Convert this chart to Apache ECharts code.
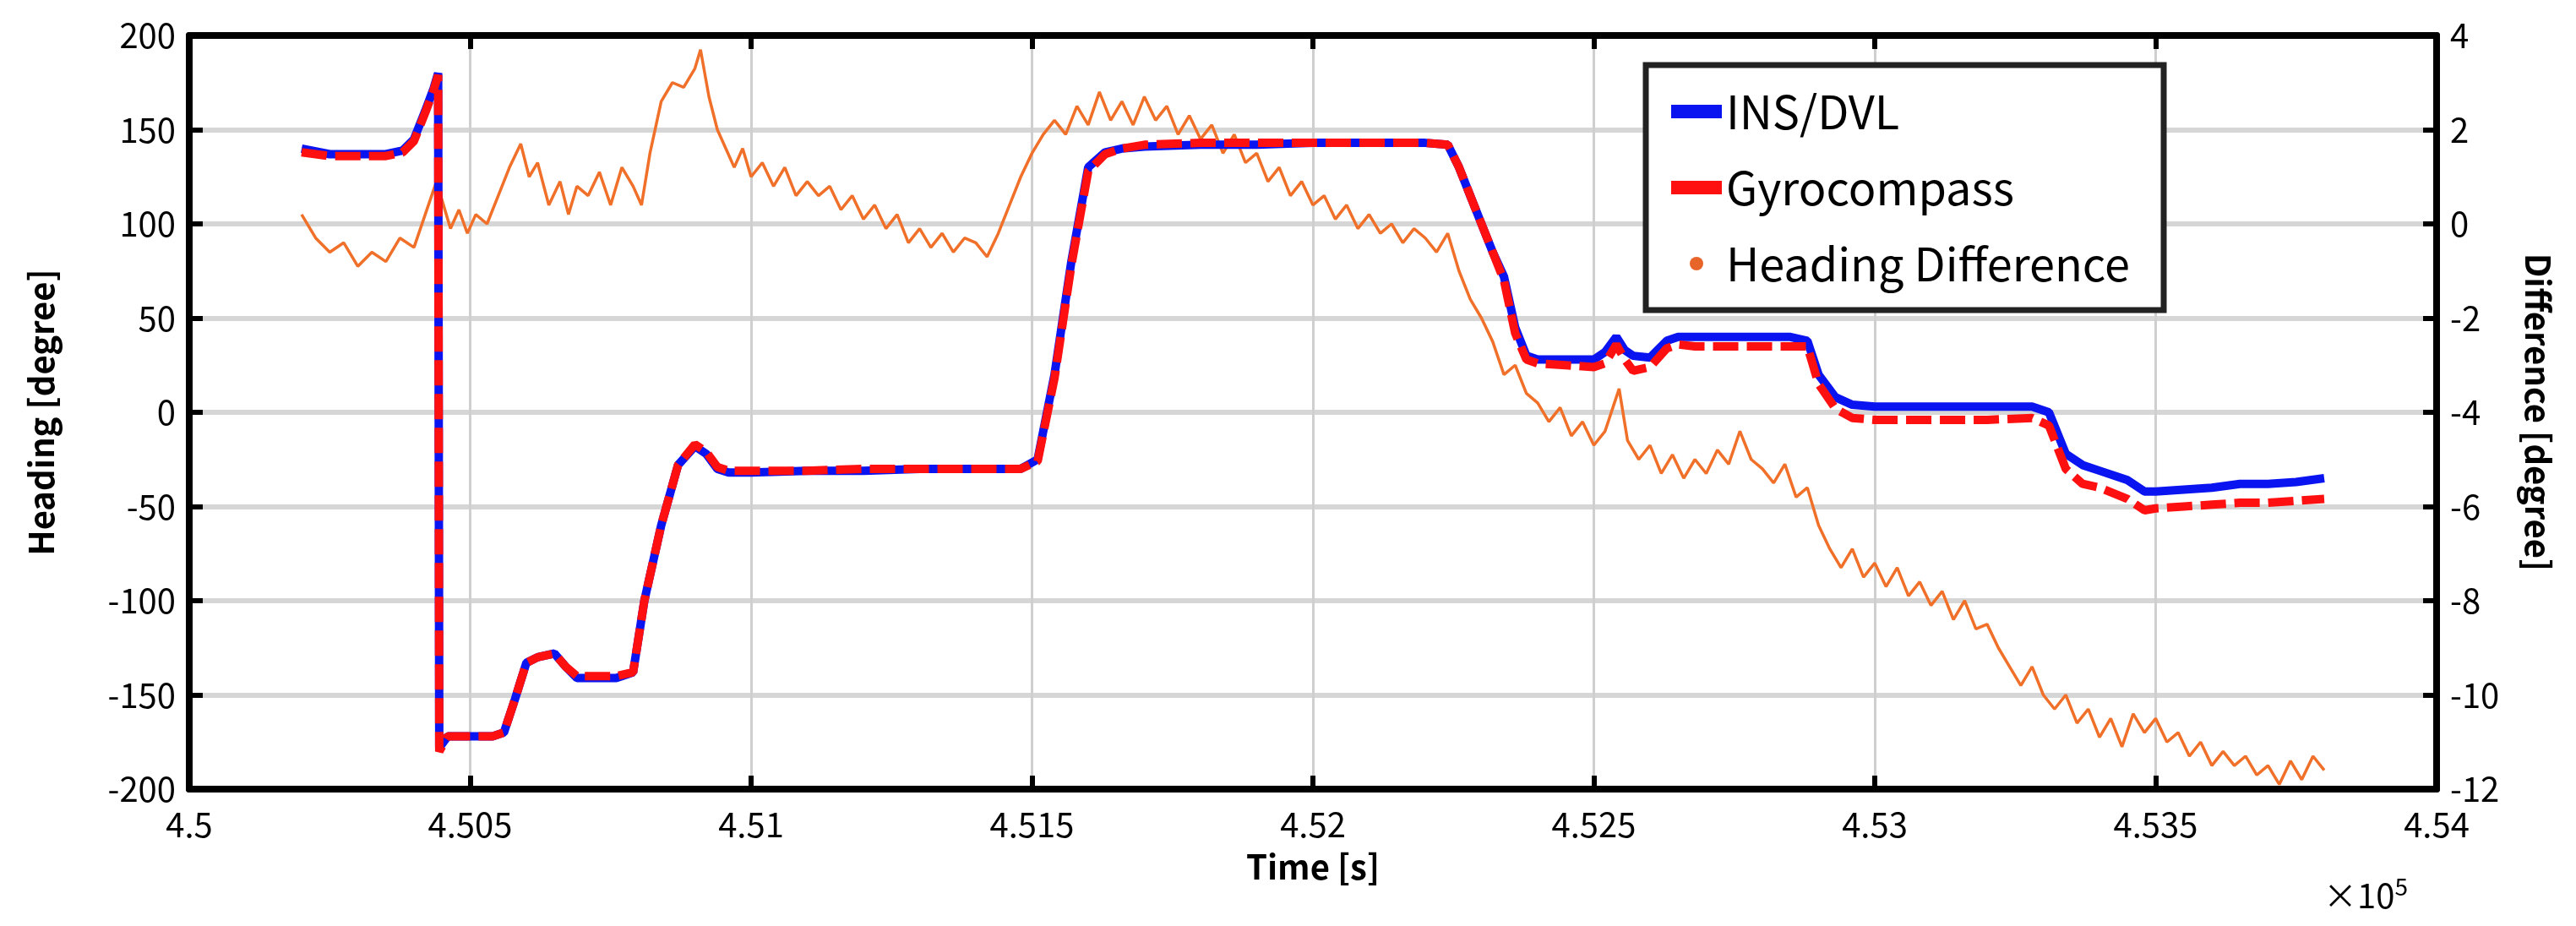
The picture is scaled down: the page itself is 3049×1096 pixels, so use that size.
<!DOCTYPE html>
<html><head><meta charset="utf-8">
<script src="https://cdn.jsdelivr.net/npm/echarts@6/dist/echarts.min.js"></script>
<style>html,body{margin:0;padding:0;background:#fff}#c{width:3049px;height:1096px}</style>
</head><body><div id="c"></div>
<script>
const xTicks=[450000,450500,451000,451500,452000,452500,453000,453500,454000];
const hT=[450200,450250,450300,450350,450380,450400,450420,450435,450443,450445,450460,450500,450540,450560,450580,450600,450620,450650,450670,450690,450720,450760,450790,450810,450840,450870,450900,450920,450940,450960,451000,451100,451200,451300,451400,451480,451510,451540,451570,451600,451630,451660,451700,451800,451900,452000,452100,452200,452240,452260,452280,452300,452320,452340,452360,452380,452400,452450,452500,452520,452540,452555,452570,452600,452630,452650,452680,452750,452800,452850,452880,452900,452930,452960,453000,453100,453200,453280,453310,453340,453370,453400,453450,453480,453500,453550,453600,453650,453700,453750,453800];
const insV=[140,137,137,137,139,145,160,172,180,-178,-172,-172,-172,-170,-152,-133,-130,-128,-135,-141,-141,-141,-138,-100,-60,-28,-18,-22,-30,-32,-32,-31,-31,-30,-30,-30,-25,20,80,130,138,140,141,142,142,143,143,143,142,130,115,100,85,72,45,30,28,28,28,32,40,33,30,29,38,40,40,40,40,40,38,20,8,4,3,3,3,3,0,-22,-28,-31,-36,-42,-42,-41,-40,-38,-38,-37,-35];
const gyroV=[138,136,136,136,138,144,159,171,179,-180,-172,-172,-172,-170,-152,-133,-130,-128,-135,-140,-140,-140,-138,-100,-60,-28,-17,-21,-29,-31,-31,-31,-30,-30,-30,-30,-26,18,78,128,137,140,142,143,143,143,143,143,142,130,115,100,85,70,42,28,26,25,24,26,36,28,22,24,34,36,35,35,35,35,35,15,2,-3,-4,-4,-4,-3,-7,-30,-38,-40,-46,-52,-51,-50,-49,-48,-48,-47,-46];
const dT=[450200,450225,450250,450275,450300,450325,450350,450375,450400,450420,450440,450450,450465,450480,450495,450510,450530,450550,450570,450590,450605,450620,450640,450660,450675,450690,450710,450730,450750,450770,450790,450805,450820,450840,450860,450880,450900,450910,450925,450940,450955,450970,450985,451000,451020,451040,451060,451080,451100,451120,451140,451160,451180,451200,451220,451240,451260,451280,451300,451320,451340,451360,451380,451400,451420,451440,451460,451480,451500,451520,451540,451560,451580,451600,451620,451640,451660,451680,451700,451720,451740,451760,451780,451800,451820,451840,451860,451880,451900,451920,451940,451960,451980,452000,452020,452040,452060,452080,452100,452120,452140,452160,452180,452200,452220,452240,452260,452280,452300,452320,452340,452360,452380,452400,452420,452440,452460,452480,452500,452520,452545,452560,452580,452600,452620,452640,452660,452680,452700,452720,452740,452760,452780,452800,452820,452840,452860,452880,452900,452920,452940,452960,452980,453000,453020,453040,453060,453080,453100,453120,453140,453160,453180,453200,453220,453240,453260,453280,453300,453320,453340,453360,453380,453400,453420,453440,453460,453480,453500,453520,453540,453560,453580,453600,453620,453640,453660,453680,453700,453720,453740,453760,453780,453800];
const dV=[0.2,-0.3,-0.6,-0.4,-0.9,-0.6,-0.8,-0.3,-0.5,0.2,0.9,0.5,-0.1,0.3,-0.2,0.2,0.0,0.6,1.2,1.7,1.0,1.3,0.4,0.9,0.2,0.8,0.6,1.1,0.4,1.2,0.8,0.4,1.5,2.6,3.0,2.9,3.3,3.7,2.7,2.0,1.6,1.2,1.6,1.0,1.3,0.8,1.2,0.6,0.9,0.6,0.8,0.3,0.6,0.1,0.4,-0.1,0.2,-0.4,-0.1,-0.5,-0.2,-0.6,-0.3,-0.4,-0.7,-0.2,0.4,1.0,1.5,1.9,2.2,1.9,2.5,2.1,2.8,2.2,2.6,2.1,2.7,2.2,2.5,1.9,2.3,1.8,2.1,1.5,1.9,1.3,1.5,0.9,1.2,0.6,0.9,0.4,0.6,0.1,0.4,-0.1,0.2,-0.2,0.0,-0.4,-0.1,-0.3,-0.6,-0.2,-1.0,-1.6,-2.0,-2.5,-3.2,-3.0,-3.6,-3.8,-4.2,-3.9,-4.5,-4.2,-4.7,-4.4,-3.5,-4.6,-5.0,-4.7,-5.3,-4.9,-5.4,-5.0,-5.3,-4.8,-5.1,-4.4,-5.0,-5.2,-5.5,-5.1,-5.8,-5.6,-6.4,-6.9,-7.3,-6.9,-7.5,-7.2,-7.7,-7.3,-7.9,-7.6,-8.1,-7.8,-8.4,-8.0,-8.6,-8.5,-9.0,-9.4,-9.8,-9.4,-10.0,-10.3,-10.0,-10.6,-10.3,-10.9,-10.5,-11.1,-10.4,-10.8,-10.5,-11.0,-10.8,-11.3,-11.0,-11.5,-11.2,-11.5,-11.3,-11.7,-11.5,-11.9,-11.4,-11.8,-11.3,-11.6];
const zip=(a,b)=>a.map((t,i)=>[t,b[i]]);
const F='"Noto Sans CJK JP", "Noto Sans", sans-serif';
const lbl={color:'#000',fontSize:40,fontFamily:F};
const line={show:true,onZero:false,lineStyle:{color:'#000',width:8}};
const tick={inside:true,length:16,lineStyle:{color:'#000',width:6}};
const chart=echarts.init(document.getElementById('c'));
chart.setOption({
  animation:false,
  grid:{left:224,right:165,top:42,bottom:162},
  xAxis:[{type:'value',min:450000,max:454000,interval:500,
    axisLine:line,axisTick:tick,
    axisLabel:{...lbl,margin:22,formatter:v=>String(+(v/1e5).toFixed(3))},
    splitLine:{lineStyle:{color:'#cfcfcf',width:3}},
    name:'Time [s]',nameLocation:'middle',nameGap:72,nameTextStyle:{...lbl,fontSize:40,fontWeight:'bold'}},
   {type:'value',position:'top',min:450000,max:454000,interval:500,axisLine:line,
    axisTick:tick,axisLabel:{show:false},splitLine:{show:false}}],
  yAxis:[{type:'value',min:-200,max:200,interval:50,
    axisLine:line,axisTick:tick,
    axisLabel:{...lbl,margin:16},splitLine:{lineStyle:{color:'#d6d6d6',width:6}},
    name:'Heading [degree]',nameLocation:'middle',nameGap:155,nameTextStyle:{...lbl,fontSize:40,fontWeight:'bold'}},
   {type:'value',min:-12,max:4,interval:2,position:'right',
    axisLine:line,axisTick:tick,
    axisLabel:{...lbl,margin:16},splitLine:{show:false},
    name:'Difference [degree]',nameLocation:'middle',nameGap:100,nameRotate:-90,nameTextStyle:{...lbl,fontSize:40,fontWeight:'bold'}}],
  legend:{orient:'vertical',left:1948,top:77,width:870,padding:[28,40,28,30],itemGap:36,
    backgroundColor:'#fff',borderColor:'#222',borderWidth:7,itemWidth:60,itemHeight:16,
    textStyle:{color:'#000',fontSize:54,fontFamily:F},
    data:[{name:'INS/DVL',icon:'rect'},{name:'Gyrocompass',icon:'rect'},{name:'Heading Difference',icon:'circle',itemStyle:{color:'#e8652a'}}]},
  series:[
   {name:'INS/DVL',type:'line',data:zip(hT,insV),showSymbol:false,symbol:'none',lineStyle:{color:'#0a14f0',width:10},itemStyle:{color:'#0a14f0'},z:3},
   {name:'Gyrocompass',type:'line',data:zip(hT,gyroV),showSymbol:false,symbol:'none',lineStyle:{color:'#ff1010',width:10,type:[30,10]},itemStyle:{color:'#ff1010'},z:4},
   {name:'Heading Difference',type:'line',yAxisIndex:1,data:zip(dT,dV),showSymbol:false,symbol:'none',lineStyle:{color:'#f0702a',width:3.5},itemStyle:{color:'#e8652a'},z:2}
  ],
  graphic:[{type:'text',left:2750,top:1035,style:{text:'×10{s|5}',rich:{s:{fontSize:28,verticalAlign:'top',padding:[0,0,22,0],fontFamily:F}},fontSize:40,fontFamily:F,fill:'#000'}}]
});
</script></body></html>
